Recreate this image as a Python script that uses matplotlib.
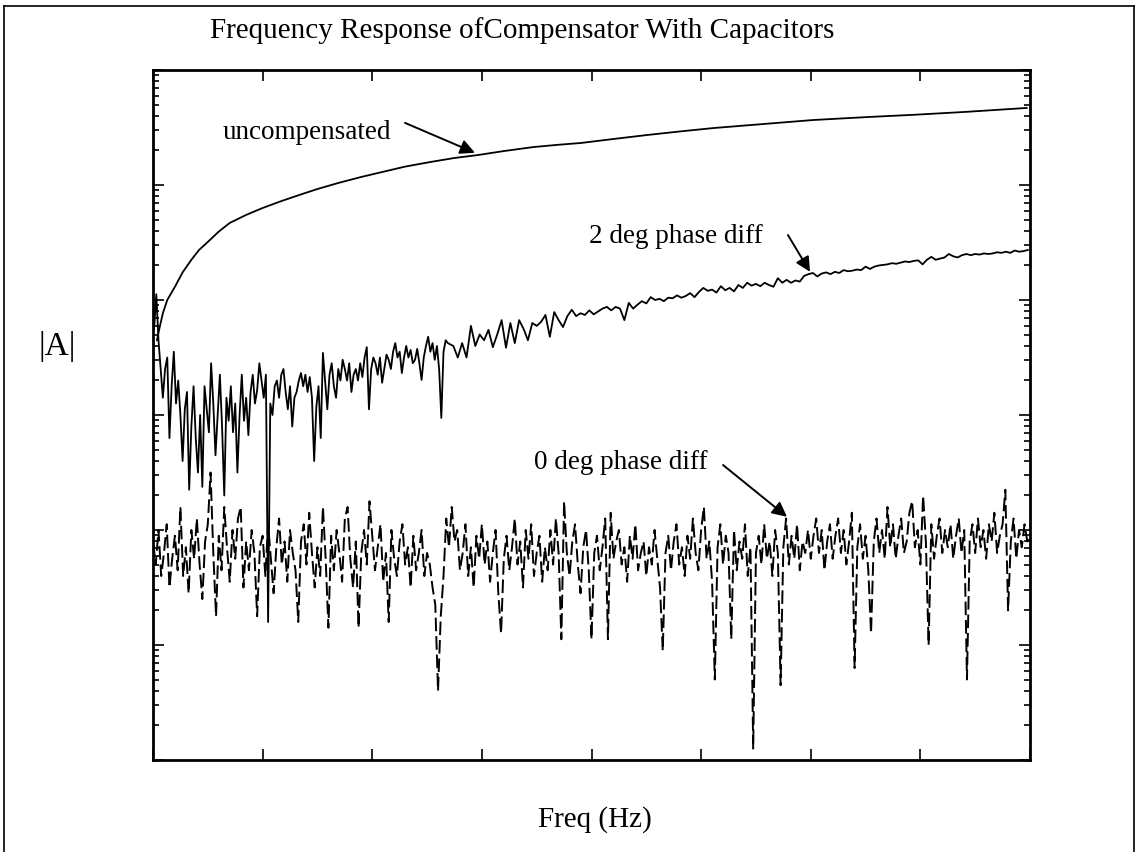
import numpy as np
import matplotlib
matplotlib.use("Agg")
import matplotlib.pyplot as plt
from matplotlib.ticker import LogLocator, NullFormatter
from matplotlib.lines import Line2D

plt.rcParams['font.family'] = ['Liberation Serif', 'DejaVu Serif']

# ---------------- data (magnitudes in dB, frequencies in Hz) ----------------
uncomp_freq = [3.6, 6, 9, 13, 20, 27, 35, 42, 50, 60, 70, 85, 100, 117, 134, 150,
               168, 190, 210, 230, 253, 275, 296, 320, 347, 370, 390, 420, 451,
               480, 511, 550, 602, 650, 693, 740, 797]
uncomp_db = [-47.0, -44.8, -42.3, -40.0, -37.7, -35.2, -33.0, -31.3, -29.9, -28.1,
             -26.6, -25.2, -24.0, -22.8, -21.7, -20.7, -19.7, -18.6, -17.7, -16.8,
             -16.0, -15.3, -14.8, -14.1, -13.4, -13.0, -12.7, -12.0, -11.3, -10.7,
             -10.1, -9.5, -8.7, -8.2, -7.8, -7.3, -6.6]

# 2 deg phase diff, low band: one value every 2 Hz from 1 Hz
deg2_low_db = [
    -45, -39, -47, -52, -57, -52, -50, -64, -55, -49,
    -58, -54, -60, -68, -59, -56, -73, -62, -55, -64,
    -70, -60, -72.5, -55, -59, -63, -51, -58, -67, -60,
    -53, -62, -74, -57, -61, -55, -63, -58, -70, -60,
    -53, -61, -57, -63.5, -56, -53, -58, -55.7, -51, -54,
    -57, -53, -96, -58, -60, -55, -54, -57, -53, -52,
    -56, -59, -55, -62, -57, -56, -54, -52.7, -55, -53,
    -56, -53.4, -57, -68, -58.6, -55, -64, -49.2, -54, -59,
    -53, -51, -55, -57, -52, -54, -50.4, -52, -54, -51,
    -56, -53, -52, -54, -51, -53.4, -50, -48.2, -59, -52,
    -50, -51, -53, -50, -54.4, -52, -49.5, -50.4, -52, -49,
    -47.5, -50, -49, -52.7, -50, -48, -50, -48.7, -51, -50.4,
    -48.5, -51, -53.9, -50, -48, -46.4, -49, -47.5, -50.4, -48,
    -52, -60.5, -49, -47, -47.5,
]

# 2 deg phase diff, high band: one value every 4 Hz from 274 Hz
deg2_high_db = [
    -48, -50,
    -47.5, -50, -44.5, -48, -46, -47, -45.2, -48.2, -46, -43.5,
    -48.3, -44, -47.5, -43.5, -45, -47, -44, -44.5, -43.8, -42.6,
    -46.4, -42.1, -43.5, -44.7, -42.8, -41.7, -42.8, -42.3, -42.6, -41.8,
    -42.5, -42, -41.5, -41.2, -41.8, -41.2, -41.5, -43.5, -40.5, -41.5,
    -40.8, -40.2, -40.6, -39.5, -40, -39.8, -40.2, -39.6, -39.7, -39.2,
    -39.6, -39.3, -38.8, -39.5, -38.6, -37.9, -38.4, -38.2, -38.7, -37.6,
    -38.3, -37.9, -38.5, -37.4, -37.9, -37.0, -37.5, -37.2, -37.6, -37.0,
    -37.4, -37.7, -36.2, -37.0, -36.5, -37.0, -36.6, -36.8, -35.8, -35.5,
    -35.3, -35.9, -35.4, -35.2, -35.5, -35.1, -35.3, -34.8, -35.0, -34.9,
    -34.7, -34.8, -34.2, -34.6, -34.2, -34.0, -33.9, -33.8, -33.6, -33.7,
    -33.5, -33.3, -33.4, -33.2, -33.1, -33.8, -33.0, -32.5, -33.0, -32.8,
    -32.6, -32.0, -32.4, -32.6, -32.2, -32.0, -32.2, -32.0, -32.1, -31.9,
    -32.0, -31.9, -31.7, -31.8, -31.6, -31.8, -31.4, -31.6, -31.5, -31.3,
]

# 0 deg phase diff, one value every 2.5 Hz starting at 0 Hz
deg0_db = [
    -82, -86, -80, -88, -84, -79, -90, -85, -81, -87,
    -76, -88, -83, -91, -80, -85, -78, -86, -92, -82,
    -79, -70, -84, -95, -81, -87, -76, -83, -89, -80,
    -85, -78, -76, -90, -82, -87, -80, -84, -95, -83,
    -81, -88, -79, -85, -91, -83, -78, -86, -82, -89,
    -80, -84, -87, -96, -82, -79, -86, -77, -84, -90,
    -83, -88, -76, -85, -97, -81, -87, -80, -84, -89,
    -78, -76, -85, -90, -82, -97, -84, -80, -86, -75,
    -81, -87, -83, -79, -89, -84, -96, -80, -85, -88,
    -82, -79, -86, -83, -90, -81, -87, -84, -80, -88,
    -84, -86, -90, -93, -108, -95, -88, -78, -83, -76,
    -82, -80, -87, -84, -79, -88, -83, -90, -81, -85,
    -79, -86, -82, -89, -84, -80, -91, -98, -85, -81,
    -87, -83, -78, -86, -82, -90, -80, -85, -79, -88,
    -84, -81, -89, -83, -87, -80, -86, -78, -84, -99,
    -75, -84, -88, -82, -79, -86, -91, -83, -80, -87,
    -99, -84, -81, -87, -83, -78, -99, -77, -85, -82,
    -80, -86, -83, -89, -81, -85, -79, -87, -84, -82,
    -88, -83, -86, -80, -85, -90, -101, -84, -81, -87,
    -82, -79, -86, -83, -88, -81, -85, -78, -84, -87,
    -80, -76, -85, -82, -89, -106, -83, -79, -86, -81,
    -84, -99, -80, -87, -82, -85, -79, -88, -83, -118,
    -84, -81, -86, -79, -85, -82, -88, -80, -84, -107,
    -83, -78, -86, -81, -85, -79, -87, -82, -84, -80,
    -85, -81, -78, -84, -80, -87, -82, -79, -85, -81,
    -78, -84, -80, -86, -82, -77, -104, -83, -79, -85,
    -81, -87, -98, -82, -78, -84, -80, -85, -76, -83,
    -79, -85, -81, -78, -84, -82, -77, -75, -83, -80,
    -86, -74, -82, -100, -79, -85, -81, -78, -84, -80,
    -83, -79, -85, -81, -78, -84, -80, -106, -82, -79,
    -84, -78, -83, -80, -85, -79, -82, -77, -84, -81,
    -79, -73, -94, -82, -78, -85, -80, -83, -79, -82,
    -81,
]

x_ticks = [0, 100, 200, 300, 400, 500, 600, 700, 800]

# ---------------- figure ----------------
W, H = 1138, 852
fig = plt.figure(figsize=(W / 100, H / 100), dpi=100)
ax = fig.add_axes([153 / W, 1 - 760 / H, (1030 - 153) / W, (760 - 70) / H])


def mag(db):
    return 10 ** (np.asarray(db, dtype=float) / 20.0)


f2 = np.concatenate([1 + 2 * np.arange(len(deg2_low_db)),
                     274 + 4 * np.arange(len(deg2_high_db))])
d2 = list(deg2_low_db) + list(deg2_high_db)
f0 = 2.5 * np.arange(len(deg0_db))

ax.plot(uncomp_freq, mag(uncomp_db), color='black', lw=1.3)
ax.plot(f2, mag(d2), color='black', lw=1.3)
ax.plot(f0, mag(deg0_db), color='black', lw=1.4, linestyle=(0, (7, 2.5)))

ax.set_yscale('log')
ax.set_xlim(0, 800)
ax.set_ylim(1e-6, 1)
ax.set_xticks(x_ticks)
ax.yaxis.set_major_locator(LogLocator(base=10, numticks=20))
ax.yaxis.set_minor_locator(LogLocator(base=10, subs=np.arange(2, 10), numticks=20))
ax.yaxis.set_minor_formatter(NullFormatter())
ax.tick_params(which='both', direction='in', top=True, right=True,
               labelleft=False, labelbottom=False, width=1.2)
ax.tick_params(which='major', length=8)
ax.tick_params(which='minor', length=4)
for s in ax.spines.values():
    s.set_linewidth(2)

# annotations
arrow = dict(arrowstyle='-|>', color='black', lw=1.4, mutation_scale=22,
             shrinkA=0, shrinkB=0)
ax.text(140.5, mag(-10.8), 'uncompensated', fontsize=19.5, ha='center', va='center')
ax.annotate('', xy=(293.7, mag(-14.4)), xytext=(229.9, mag(-9.2)), arrowprops=arrow)
ax.text(476.6, mag(-29.0), '2 deg phase diff', fontsize=19.5, ha='center', va='center')
ax.annotate('', xy=(599.3, mag(-35.1)), xytext=(579.2, mag(-28.7)), arrowprops=arrow)
ax.text(426.9, mag(-68.2), '0 deg phase diff', fontsize=19.5, ha='center', va='center')
ax.annotate('', xy=(578.3, mag(-77.7)), xytext=(520.0, mag(-68.7)), arrowprops=arrow)

fig.text(522 / W, 1 - 31 / H, 'Frequency Response ofCompensator With Capacitors',
         fontsize=21, ha='center', va='center')
fig.text(57 / W, 1 - 346 / H, '|A|', fontsize=24, ha='center', va='center')
fig.text(595 / W, 1 - 820 / H, 'Freq (Hz)', fontsize=21, ha='center', va='center')

# outer frame (left, top, right)
for xs, ys in [([4 / W, 4 / W], [0, 1 - 6 / H]),
               ([4 / W, 1134 / W], [1 - 6 / H, 1 - 6 / H]),
               ([1134 / W, 1134 / W], [0, 1 - 6 / H])]:
    fig.add_artist(Line2D(xs, ys, color='black', lw=1.2, transform=fig.transFigure))

fig.savefig('out.png', dpi=100)
